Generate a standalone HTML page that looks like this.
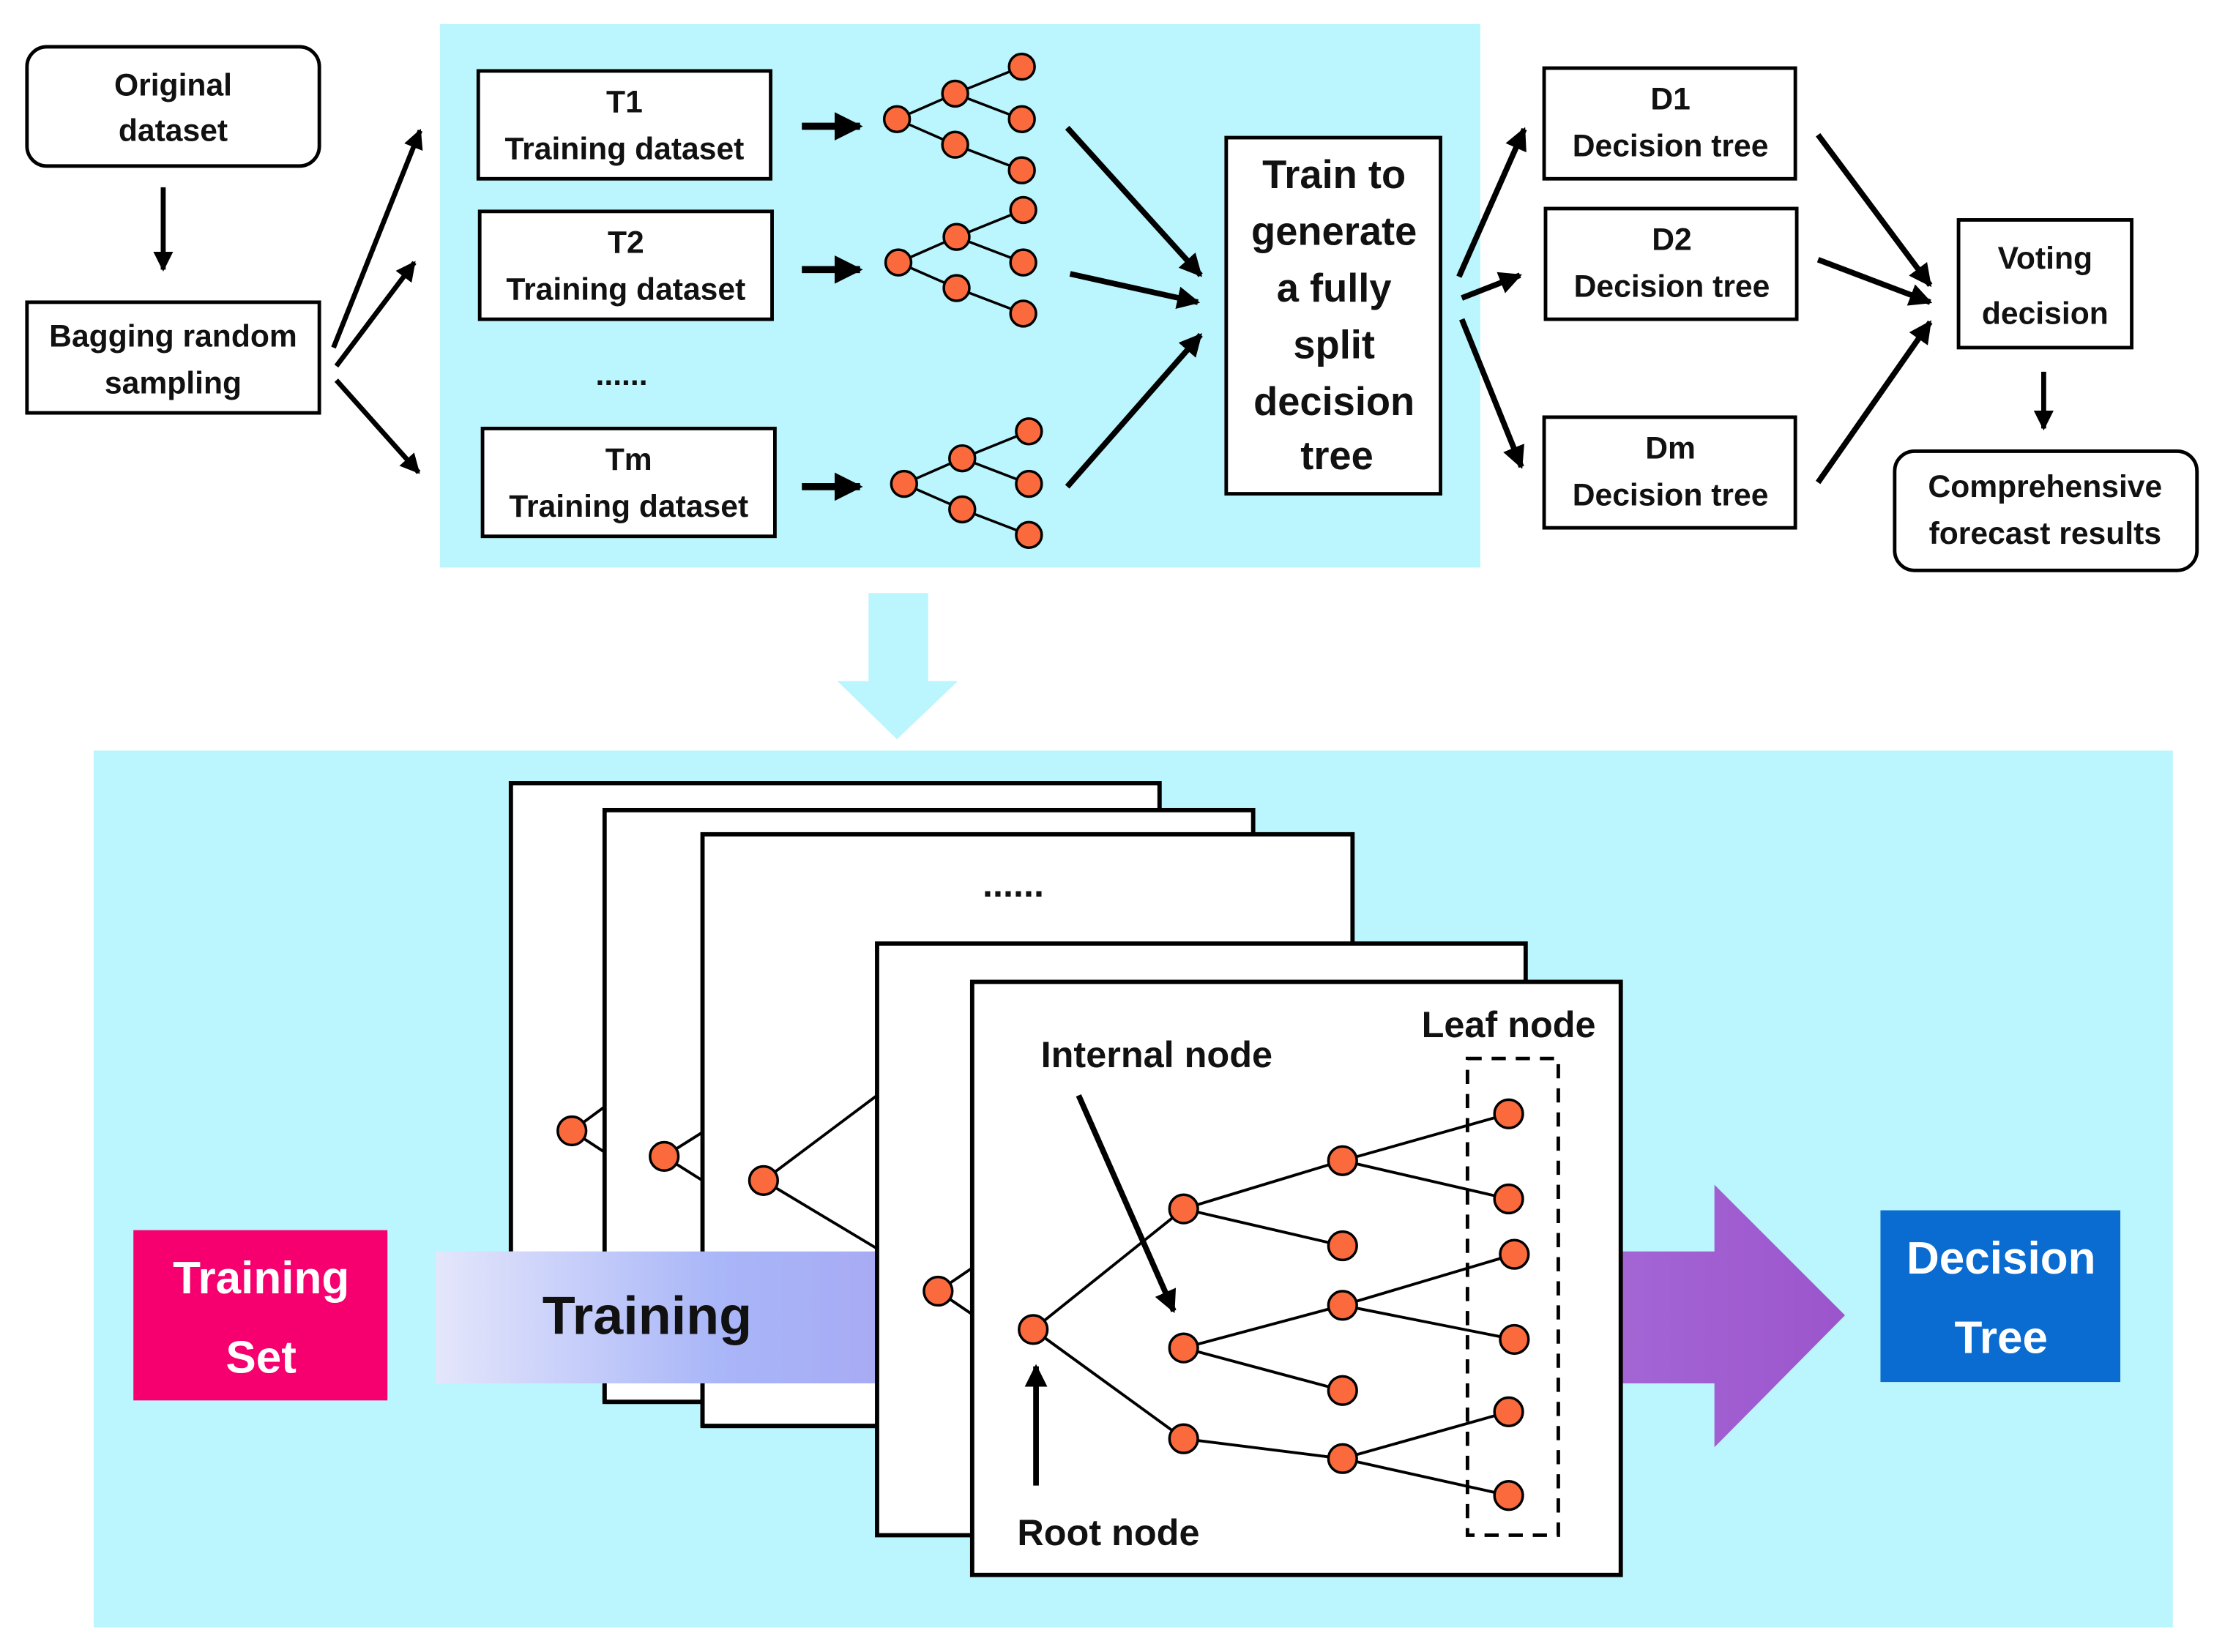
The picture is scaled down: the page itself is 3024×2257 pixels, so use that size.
<!DOCTYPE html>
<html><head><meta charset="utf-8"><style>
html,body{margin:0;padding:0;background:#fff;}
svg{display:block;}
text{font-family:"Liberation Sans",sans-serif;font-weight:bold;fill:#111;text-anchor:middle;dominant-baseline:central;}
</style></head><body>
<svg width="3024" height="2257" viewBox="0 0 1560 1164.3" preserveAspectRatio="none" xmlns="http://www.w3.org/2000/svg">
<defs>
<marker id="ah" viewBox="0 0 10 10" refX="9" refY="5" markerWidth="4" markerHeight="4" orient="auto" markerUnits="strokeWidth"><path d="M0,0 L10,5 L0,10 Z" fill="#000"/></marker>
<linearGradient id="tg" x1="307" y1="0" x2="1300" y2="0" gradientUnits="userSpaceOnUse">
<stop offset="0" stop-color="#e4e6fb"/><stop offset="0.2" stop-color="#a9b6f8"/><stop offset="0.35" stop-color="#a7a7f2"/><stop offset="0.85" stop-color="#a364d4"/><stop offset="1" stop-color="#9c55cc"/></linearGradient>
</defs>
<rect width="1560" height="1165" fill="#fff"/>
<!-- top left -->
<rect x="19" y="33" width="206" height="84" rx="14" fill="#fff" stroke="#000" stroke-width="2.5"/>
<text x="122" y="60" font-size="22">Original</text><text x="122" y="92" font-size="22">dataset</text>
<line x1="115" y1="132" x2="115" y2="190" stroke="#000" stroke-width="3.5" marker-end="url(#ah)"/>
<rect x="19" y="213" width="206" height="78" fill="#fff" stroke="#000" stroke-width="2.5"/>
<text x="122" y="237" font-size="22">Bagging random</text><text x="122" y="270" font-size="22">sampling</text>
<g stroke="#000" stroke-width="3.5" marker-end="url(#ah)">
<line x1="235" y1="245" x2="296" y2="92"/><line x1="237" y1="258" x2="292" y2="185"/><line x1="237" y1="268" x2="295" y2="333"/></g>
<!-- blue panel -->
<rect x="310" y="17" width="733" height="383" fill="#bbf5fd"/>
<g fill="#fff" stroke="#000" stroke-width="2.5">
<rect x="337" y="50" width="206" height="76"/><rect x="338" y="149" width="206" height="76"/><rect x="340" y="302" width="206" height="76"/></g>
<text x="440" y="72" font-size="22">T1</text><text x="440" y="105" font-size="22">Training dataset</text>
<text x="441" y="171" font-size="22">T2</text><text x="441" y="204" font-size="22">Training dataset</text>
<text x="443" y="324" font-size="22">Tm</text><text x="443" y="357" font-size="22">Training dataset</text>
<text x="438" y="264" font-size="22">......</text>
<g stroke="#000" stroke-width="5" marker-end="url(#ah)">
<line x1="565" y1="89" x2="606" y2="89"/><line x1="565" y1="190" x2="606" y2="190"/><line x1="565" y1="343" x2="606" y2="343"/></g>
<g stroke="#000" stroke-width="1.8" fill="#fa6a3c">
<g><path d="M632,84 L673,66 L720,47 M673,66 L720,84 M632,84 L673,102 L720,120" fill="none"/>
<circle cx="632" cy="84" r="9"/><circle cx="673" cy="66" r="9"/><circle cx="673" cy="102" r="9"/><circle cx="720" cy="47" r="9"/><circle cx="720" cy="84" r="9"/><circle cx="720" cy="120" r="9"/></g>
<g transform="translate(1,101)"><path d="M632,84 L673,66 L720,47 M673,66 L720,84 M632,84 L673,102 L720,120" fill="none"/>
<circle cx="632" cy="84" r="9"/><circle cx="673" cy="66" r="9"/><circle cx="673" cy="102" r="9"/><circle cx="720" cy="47" r="9"/><circle cx="720" cy="84" r="9"/><circle cx="720" cy="120" r="9"/></g>
<g transform="translate(5,257)"><path d="M632,84 L673,66 L720,47 M673,66 L720,84 M632,84 L673,102 L720,120" fill="none"/>
<circle cx="632" cy="84" r="9"/><circle cx="673" cy="66" r="9"/><circle cx="673" cy="102" r="9"/><circle cx="720" cy="47" r="9"/><circle cx="720" cy="84" r="9"/><circle cx="720" cy="120" r="9"/></g>
</g>
<g stroke="#000" stroke-width="4" marker-end="url(#ah)">
<line x1="752" y1="90" x2="846" y2="194"/><line x1="754" y1="193" x2="844" y2="213"/><line x1="752" y1="343" x2="846" y2="236"/></g>
<rect x="864" y="97" width="151" height="251" fill="#fff" stroke="#000" stroke-width="2.5"/>
<g font-size="28"><text x="940" y="123">Train to</text><text x="940" y="163">generate</text><text x="940" y="203">a fully</text><text x="940" y="243">split</text><text x="940" y="283">decision</text><text x="942" y="321">tree</text></g>
<g stroke="#000" stroke-width="4" marker-end="url(#ah)">
<line x1="1028" y1="195" x2="1074" y2="91"/><line x1="1030" y1="210" x2="1071" y2="194"/><line x1="1030" y1="225" x2="1072" y2="329"/></g>
<g fill="#fff" stroke="#000" stroke-width="2.5">
<rect x="1088" y="48" width="177" height="78"/><rect x="1089" y="147" width="177" height="78"/><rect x="1088" y="294" width="177" height="78"/><rect x="1380" y="155" width="122" height="90"/></g>
<text x="1177" y="70" font-size="22">D1</text><text x="1177" y="103" font-size="22">Decision tree</text>
<text x="1178" y="169" font-size="22">D2</text><text x="1178" y="202" font-size="22">Decision tree</text>
<text x="1177" y="316" font-size="22">Dm</text><text x="1177" y="349" font-size="22">Decision tree</text>
<text x="1441" y="182" font-size="22">Voting</text><text x="1441" y="221" font-size="22">decision</text>
<g stroke="#000" stroke-width="4" marker-end="url(#ah)">
<line x1="1281" y1="95" x2="1360" y2="201"/><line x1="1281" y1="183" x2="1360" y2="213"/><line x1="1281" y1="340" x2="1360" y2="227"/></g>
<line x1="1440" y1="262" x2="1440" y2="302" stroke="#000" stroke-width="3.5" marker-end="url(#ah)"/>
<rect x="1335" y="318" width="213" height="84" rx="14" fill="#fff" stroke="#000" stroke-width="2.5"/>
<text x="1441" y="343" font-size="22">Comprehensive</text><text x="1441" y="376" font-size="22">forecast results</text>
<!-- big down arrow -->
<path d="M612,418 H654 V480 H675 L632,521 L590,480 H612 Z" fill="#bbf5fd"/>
<!-- bottom panel -->
<rect x="66" y="529" width="1465" height="618" fill="#bbf5fd"/>
<!-- training arrow -->
<path d="M307,882 H1208 V835 L1300,927 L1208,1020 V975 H307 Z" fill="url(#tg)"/>
<rect x="94" y="867" width="179" height="120" fill="#f5006e"/>
<text x="184" y="901" font-size="32" style="fill:#fff">Training</text><text x="184" y="957" font-size="32" style="fill:#fff">Set</text>
<rect x="1325" y="853" width="169" height="121" fill="#0a6bd0"/>
<text x="1410" y="887" font-size="32" style="fill:#fff">Decision</text><text x="1410" y="943" font-size="32" style="fill:#fff">Tree</text>
<!-- stacked boxes -->
<g stroke="#000" stroke-width="3">
<path d="M360,882 V552 H817 V571" fill="#fff"/>
<rect x="360" y="552" width="457" height="330" fill="#fff" stroke="none"/>
<path d="M360,882 V552 H817 V571" fill="none"/>
<line x1="403" y1="797" x2="426" y2="780" stroke-width="2"/><line x1="403" y1="797" x2="426" y2="812" stroke-width="2"/>
<circle cx="403" cy="797" r="10" fill="#fa6a3c" stroke-width="1.8"/>
<rect x="426" y="571" width="457" height="417" fill="#fff"/>
<line x1="468" y1="815" x2="495" y2="798" stroke-width="2"/><line x1="468" y1="815" x2="495" y2="832" stroke-width="2"/>
<circle cx="468" cy="815" r="10" fill="#fa6a3c" stroke-width="1.8"/>
<rect x="495" y="588" width="458" height="417" fill="#fff"/>
<line x1="538" y1="832" x2="618" y2="772" stroke-width="2"/><line x1="538" y1="832" x2="618" y2="880" stroke-width="2"/>
<circle cx="538" cy="832" r="10" fill="#fa6a3c" stroke-width="1.8"/>
</g>
<path d="M307,882 H620 V975 H307 Z" fill="url(#tg)"/>
<line x1="426" y1="975" x2="426" y2="988" stroke="#000" stroke-width="3"/>
<line x1="495" y1="975" x2="495" y2="1005" stroke="#000" stroke-width="3"/>
<line x1="426" y1="988" x2="495" y2="988" stroke="#000" stroke-width="3"/>
<line x1="495" y1="1005" x2="620" y2="1005" stroke="#000" stroke-width="3"/>
<text x="456" y="927" font-size="38" style="fill:#111">Training</text>
<text x="714" y="623" font-size="26">......</text>
<g stroke="#000" stroke-width="3">
<rect x="618" y="665" width="457" height="417" fill="#fff"/>
<line x1="661" y1="910" x2="686" y2="893" stroke-width="2"/><line x1="661" y1="910" x2="686" y2="927" stroke-width="2"/>
<circle cx="661" cy="910" r="10" fill="#fa6a3c" stroke-width="1.8"/>
<rect x="685" y="692" width="457" height="418" fill="#fff"/>
</g>
<rect x="1034" y="746" width="64" height="336" fill="none" stroke="#000" stroke-width="2.5" stroke-dasharray="10,7"/>
<g stroke="#000" stroke-width="2" fill="none">
<path d="M728,937 L834,852 M728,937 L834,1014 M834,852 L946,818 M834,852 L946,878 M834,950 L946,920 M834,950 L946,980 M834,1014 L946,1028 M946,818 L1063,785 M946,818 L1063,845 M946,920 L1067,884 M946,920 L1067,944 M946,1028 L1063,995 M946,1028 L1063,1054"/></g>
<g fill="#fa6a3c" stroke="#000" stroke-width="1.8">
<circle cx="728" cy="937" r="10"/><circle cx="834" cy="852" r="10"/><circle cx="834" cy="950" r="10"/><circle cx="834" cy="1014" r="10"/>
<circle cx="946" cy="818" r="10"/><circle cx="946" cy="878" r="10"/><circle cx="946" cy="920" r="10"/><circle cx="946" cy="980" r="10"/><circle cx="946" cy="1028" r="10"/>
<circle cx="1063" cy="785" r="10"/><circle cx="1063" cy="845" r="10"/><circle cx="1067" cy="884" r="10"/><circle cx="1067" cy="944" r="10"/><circle cx="1063" cy="995" r="10"/><circle cx="1063" cy="1054" r="10"/></g>
<text x="1063" y="722" font-size="26">Leaf node</text>
<text x="815" y="743" font-size="26">Internal node</text>
<text x="781" y="1080" font-size="26">Root node</text>
<line x1="760" y1="772" x2="827" y2="924" stroke="#000" stroke-width="4" marker-end="url(#ah)"/>
<line x1="730" y1="1047" x2="730" y2="963" stroke="#000" stroke-width="4" marker-end="url(#ah)"/>
</svg>
</body></html>
